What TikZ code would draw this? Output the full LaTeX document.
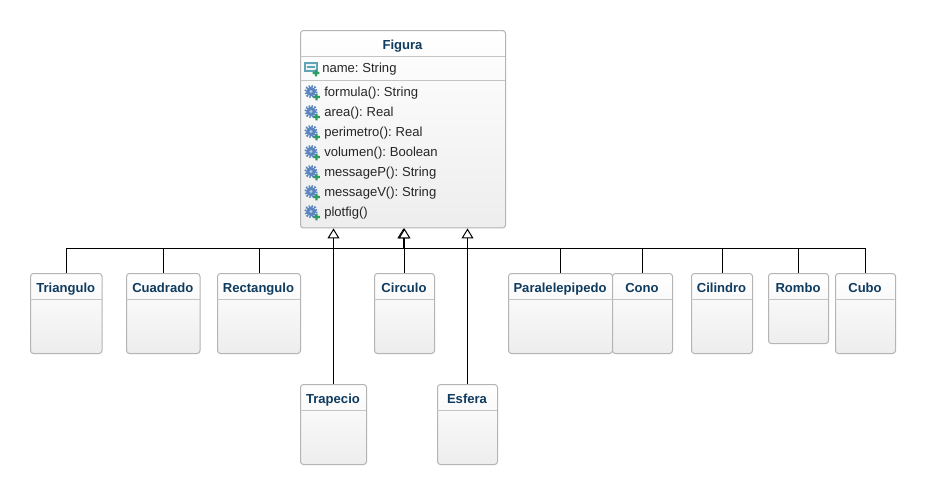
\documentclass[tikz,border=0pt]{standalone}
\usepackage{fontspec}
\setmainfont[WordSpace=0.72]{Liberation Sans}
\usetikzlibrary{arrows.meta,positioning}
\definecolor{titlec}{HTML}{0F3B5F}
\definecolor{edgec}{HTML}{B4B4B4}
\definecolor{sepc}{HTML}{C4C4C4}
\definecolor{gearc}{HTML}{5C86C0}
\definecolor{plusc}{HTML}{2E9B62}
\definecolor{attrc}{HTML}{5FA5B5}
\tikzset{
  x=0.75pt,y=-0.75pt,
  umlbox/.style={draw=edgec,line width=0.75pt,rounded corners=2.2pt,top color=white,bottom color=white!93!black,inner sep=0pt,anchor=north west},
  umltitle/.style={font=\fontsize{9.8pt}{12pt}\selectfont\bfseries,text=titlec,inner sep=0pt,anchor=base},
  member/.style={font=\fontsize{9.8pt}{12pt}\selectfont,text=black!85,inner sep=0pt,anchor=base west},
  sepline/.style={draw=sepc,line width=0.6pt},
  link/.style={draw=black,line width=0.75pt},
  inherit/.style={link,-{Triangle[open,fill=white,length=7.5pt,width=9pt,line width=0.75pt]}},
  plusmark/.pic={
    \fill[plusc] (-1.2,-3.4)--(1.2,-3.4)--(1.2,-1.2)--(3.4,-1.2)--(3.4,1.2)--(1.2,1.2)--(1.2,3.4)--(-1.2,3.4)--(-1.2,1.2)--(-3.4,1.2)--(-3.4,-1.2)--(-1.2,-1.2)--cycle;
  },
  gearicon/.pic={
    \draw[gearc,line width=2pt,dash pattern=on 1.1pt off 1pt] (-1,-1) circle[radius=5.4];
    \fill[gearc] (-1,-1) circle[radius=4.6];
    \fill[white!55!gearc] (-1,-1) circle[radius=1.7];
    \pic at (4.5,4.5) {plusmark};
  },
  attricon/.pic={
    \draw[attrc,line width=0.8pt,fill=white!88!attrc] (-6,-5) rectangle (6,3);
    \draw[attrc,line width=0.9pt] (-4,-1) -- (4,-1);
    \pic at (5,5) {plusmark};
  }
}
\newcommand{\childbox}[6]{% name, text, x1, y1, x2, y2
  \node[umlbox,minimum width={(#5-#3)*0.75pt},minimum height={(#6-#4)*0.75pt}] (#1) at (#3,#4) {};
  \node[umltitle] (#1T) at ({(#3+#5)/2},#4+19) {#2};
  \draw[sepline] (#3,#4+26) -- (#5,#4+26);
}
\begin{document}
\begin{tikzpicture}
\useasboundingbox (0,0) rectangle (925,494);
\fill[white] (0,0) rectangle (925,494);

% Figura
\node[umlbox,minimum width=153.75pt,minimum height=148.1pt] (Figura) at (300,30) {};
\node[umltitle] (FiguraT) at (402.5,49) {Figura};
\draw[sepline] (300,56.5) -- (505,56.5);
\draw[sepline] (300,80) -- (505,80);
\pic at (311,68) {attricon};
\node[member] (m0) at (322,72) {name: String};
\foreach \nm/\yy/\lab in {m1/91.5/{formula(): String},m2/111.5/{area(): Real},m3/131.5/{perimetro(): Real},m4/151.5/{volumen(): Boolean},m5/171.5/{messageP(): String},m6/191.5/{messageV(): String},m7/211.5/{plotfig()}}{
  \pic at (312,\yy+1) {gearicon};
  \node[member] (\nm) at (324,\yy+4.5) {\lab};
}

% Children
\childbox{Triangulo}{Triangulo}{30}{273}{101.5}{353}
\childbox{Cuadrado}{Cuadrado}{126}{273}{199.5}{353}
\childbox{Rectangulo}{Rectangulo}{217}{273}{300}{353}
\childbox{Circulo}{Circulo}{374}{273}{434}{353}
\childbox{Paralelepipedo}{Paralelepipedo}{508}{273}{612}{353}
\childbox{Cono}{Cono}{612}{273}{672}{353}
\childbox{Cilindro}{Cilindro}{691}{273}{752}{353}
\childbox{Rombo}{Rombo}{768}{273}{828}{343}
\childbox{Cubo}{Cubo}{835}{273}{895}{353}
\childbox{Trapecio}{Trapecio}{300}{384}{366}{464}
\childbox{Esfera}{Esfera}{437}{384}{497}{464}

% Connectors
\coordinate (hub) at (403.4,248.5);
\foreach \c in {Triangulo,Cuadrado,Rectangulo,Paralelepipedo,Cono,Cilindro,Rombo,Cubo}{
  \draw[link] (\c.north) |- (hub);
}
\draw[inherit] (hub) -- (hub |- Figura.south);
\draw[inherit] (Circulo.north) -- (Circulo.north |- Figura.south);
\draw[inherit] (Trapecio.north) -- (Trapecio.north |- Figura.south);
\draw[inherit] (Esfera.north) -- (Esfera.north |- Figura.south);
\end{tikzpicture}
\end{document}
